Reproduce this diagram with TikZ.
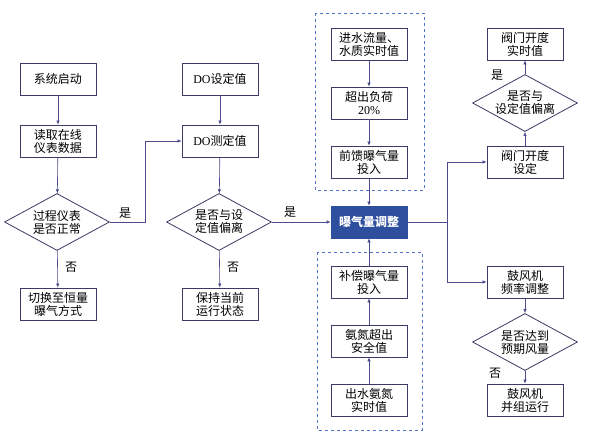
\documentclass[tikz,border=0pt]{standalone}
\usepackage{fontspec}
\setmainfont{Liberation Serif}
\newfontfamily\cjk{Noto Sans CJK SC}
\usetikzlibrary{shapes.geometric,arrows.meta}
\definecolor{lineblue}{HTML}{4A4A8C}
\definecolor{boxedge}{HTML}{3A3A66}
\definecolor{dashblue}{HTML}{4F74C8}
\definecolor{mainfill}{HTML}{2D4F9E}
\tikzset{
  stepbox/.style={draw=boxedge, line width=0.8pt,
    minimum width=76pt, minimum height=32pt,
    inner sep=1pt, align=center,
    font=\cjk\fontsize{12}{13}\selectfont
  },
  decide/.style={diamond, draw=boxedge, line width=0.8pt,
    aspect=1.85, minimum width=105pt, minimum height=57pt,
    inner sep=0pt, align=center,
    font=\cjk\fontsize{12}{13}\selectfont
  },
  flow/.style={draw=lineblue, line width=0.6pt, -{Latex[length=4pt,width=3.5pt]}},
  group/.style={draw=dashblue, dashed, line width=0.8pt},
  lbl/.style={font=\cjk\fontsize{12}{13}\selectfont}
}
\begin{document}
\begin{tikzpicture}[x=1pt,y=-1pt]
  \useasboundingbox (0,0) rectangle (590,436);
  % dashed groups
  \draw[group] (315,13) rectangle (424,190);
  \draw[group] (317,252) rectangle (422,430);
  % left column
  \node[stepbox] (start) at (58,79) {系统启动};
  \node[stepbox] (read) at (58,141) {读取在线\\仪表数据};
  \node[decide] (check) at (57,222) {过程仪表\\是否正常};
  \node[stepbox] (switch) at (58,304) {切换至恒量\\曝气方式};
  % DO column
  \node[stepbox] (doset) at (220,79) {{\rmfamily DO}设定值};
  \node[stepbox] (domeas) at (220,141) {{\rmfamily DO}测定值};
  \node[decide] (dev) at (219,222) {是否与设\\定值偏离};
  \node[stepbox] (keep) at (220,304) {保持当前\\运行状态};
  % middle column
  \node[stepbox, fill=mainfill, text=white, draw=mainfill, font=\cjk\bfseries\fontsize{12}{13}\selectfont] (aer) at (369,222) {曝气量调整};
  \node[stepbox] (inflow) at (369,44) {进水流量、\\水质实时值};
  \node[stepbox] (overload) at (369,103) {超出负荷\\{\rmfamily 20\%}};
  \node[stepbox] (feed) at (369,162) {前馈曝气量\\投入};
  \node[stepbox] (comp) at (369,282) {补偿曝气量\\投入};
  \node[stepbox] (nh) at (369,341) {氨氮超出\\安全值};
  \node[stepbox] (outnh) at (369,400) {出水氨氮\\实时值};
  % right column
  \node[stepbox] (valreal) at (525,44) {阀门开度\\实时值};
  \node[decide] (valdev) at (525,103) {是否与\\设定值偏离};
  \node[stepbox] (valset) at (525,162) {阀门开度\\设定};
  \node[stepbox] (blower) at (525,282) {鼓风机\\频率调整};
  \node[decide] (reach) at (525,342) {是否达到\\预期风量};
  \node[stepbox] (parallel) at (525,400) {鼓风机\\并组运行};
  \coordinate (split) at (447,222);
  % connectors
  \draw[flow] (start) -- (read);
  \draw[flow] (read) -- (check);
  \draw[flow] (check) -- node[lbl, right=4pt, pos=0.45] {否} (switch);
  \draw[flow] (check.east) -- (145,222) |- (domeas.west);
  \node[lbl] at (125,213) {是};
  \draw[flow] (doset) -- (domeas);
  \draw[flow] (domeas) -- (dev);
  \draw[flow] (dev) -- node[lbl, right=4pt, pos=0.45] {否} (keep);
  \draw[flow] (dev.east) -- (aer.west);
  \node[lbl] at (290,212) {是};
  \draw[flow] (inflow) -- (overload);
  \draw[flow] (overload) -- (feed);
  \draw[flow] (feed) -- (aer);
  \draw[flow] (outnh) -- (nh);
  \draw[flow] (nh) -- (comp);
  \draw[flow] (comp) -- (aer);
  \draw[draw=lineblue, line width=0.6pt] (aer.east) -- (split);
  \draw[flow] (split) |- (valset.west);
  \draw[flow] (split) |- (blower.west);
  \draw[flow] (valset) -- (valdev);
  \draw[flow] (valdev) -- (valreal);
  \node[lbl] at (497,75) {是};
  \draw[flow] (blower) -- (reach);
  \draw[flow] (reach) -- (parallel);
  \node[lbl] at (495,373) {否};
\end{tikzpicture}
\end{document}
